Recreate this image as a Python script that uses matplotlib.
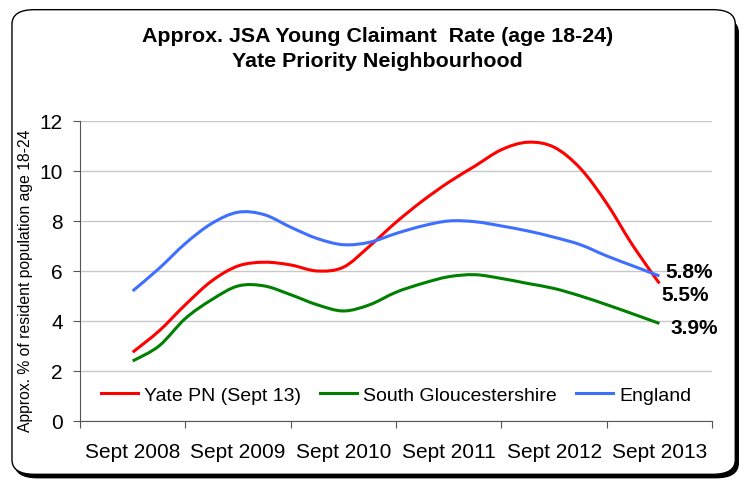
import matplotlib
matplotlib.use('Agg')
from matplotlib import pyplot as plt
from matplotlib.patches import FancyBboxPatch, PathPatch
from matplotlib.path import Path
from matplotlib.lines import Line2D
import numpy as np

plt.rcParams['font.family'] = ['Liberation Sans', 'DejaVu Sans']

# quarterly readings, Sept 2008 .. Sept 2013
years = ['Sept 2008', 'Sept 2009', 'Sept 2010', 'Sept 2011', 'Sept 2012', 'Sept 2013']
quarter = np.arange(21) / 4.0

yate = [2.75, 3.6, 4.65, 5.6, 6.2, 6.35, 6.24, 6.0, 6.15, 7.0, 7.95,
        8.8, 9.55, 10.2, 10.85, 11.15, 10.95, 10.1, 8.7, 7.0, 5.5]
south_glos = [2.4, 3.0, 4.1, 4.85, 5.4, 5.4, 5.05, 4.65, 4.4, 4.65, 5.15,
              5.5, 5.77, 5.85, 5.7, 5.5, 5.3, 5.0, 4.65, 4.28, 3.9]
england = [5.2, 6.1, 7.1, 7.9, 8.35, 8.25, 7.75, 7.3, 7.05, 7.15, 7.5,
           7.8, 8.0, 7.97, 7.8, 7.6, 7.35, 7.05, 6.6, 6.2, 5.8]

series = [('Yate PN (Sept 13)', yate, '#ff0000'),
          ('South Gloucestershire', south_glos, '#008000'),
          ('England', england, '#3f6fff')]
end_labels = ['5.5%', '3.9%', '5.8%']


def smooth_path(x, y):
    # excel-style "smoothed line": cubic bezier through every point
    pts = np.column_stack([x, y])
    verts = [pts[0]]
    codes = [Path.MOVETO]
    for i in range(len(pts) - 1):
        p0 = pts[max(i - 1, 0)]
        p1 = pts[i]
        p2 = pts[i + 1]
        p3 = pts[min(i + 2, len(pts) - 1)]
        verts += [p1 + (p2 - p0) / 6.0, p2 - (p3 - p1) / 6.0, p2]
        codes += [Path.CURVE4] * 3
    return Path(verts, codes)


fig = plt.figure(figsize=(7.48, 4.85), dpi=100)

# rounded frame with a shadow on the right/bottom
shadow = FancyBboxPatch((0.020, 0.013), 0.967, 0.948, boxstyle='round,pad=0,rounding_size=0.03',
                        transform=fig.transFigure, facecolor='black', edgecolor='black', lw=1, zorder=-2)
frame = FancyBboxPatch((0.016, 0.020), 0.967, 0.958, boxstyle='round,pad=0,rounding_size=0.03',
                       transform=fig.transFigure, facecolor='white', edgecolor='black', lw=1, zorder=-1)
fig.patches.extend([shadow, frame])

ax = fig.add_axes([0.107, 0.13, 0.845, 0.6185])
ax.set_facecolor('none')

handles = []
for name, vals, col in series:
    ax.add_patch(PathPatch(smooth_path(quarter, vals), fill=False, edgecolor=col, lw=2.2,
                           joinstyle='round', capstyle='butt', zorder=3))
    handles.append(Line2D([], [], color=col, lw=2.2, label=name))

ax.set_xlim(-0.5, 5.5)
ax.set_ylim(0, 12)
ax.set_yticks(range(0, 13, 2))
ax.set_xticks(np.arange(-0.5, 6, 1))
ax.set_xticklabels([])
ax.set_xticks(range(6), minor=True)
ax.set_xticklabels(years, minor=True)
ax.tick_params(axis='x', which='minor', length=0, pad=15, labelsize=15)
ax.tick_params(axis='x', which='major', length=5, color='#555555')
ax.tick_params(axis='y', length=5, labelsize=15, color='#555555', pad=7.5)

ax.grid(axis='y', color='#c8c8c8', lw=1)
ax.set_axisbelow(True)
for s in ['top', 'right']:
    ax.spines[s].set_visible(False)
for s in ['left', 'bottom']:
    ax.spines[s].set_color('#555555')

ax.set_ylabel('Approx. % of resident population age 18-24', fontsize=11.3)
ax.yaxis.set_label_coords(-0.074, 0.472)

# end-point labels
ax.text(quarter[-1] + 0.02, yate[-1] - 0.46, end_labels[0], fontsize=15, fontweight='bold', va='center')
ax.text(quarter[-1] + 0.105, south_glos[-1] - 0.18, end_labels[1], fontsize=15, fontweight='bold', va='center')
ax.text(quarter[-1] + 0.057, england[-1] + 0.16, end_labels[2], fontsize=15, fontweight='bold', va='center')

ax.legend(handles=handles, loc='center', bbox_to_anchor=(0.5, 0.087), ncol=3, frameon=False, fontsize=14,
          handlelength=1.9, handletextpad=0.3, columnspacing=1.0)

fig.text(0.505, 0.9134, 'Approx. JSA Young Claimant  Rate (age 18-24)', ha='center', va='baseline',
         fontsize=15.4, fontweight='bold')
fig.text(0.505, 0.862, 'Yate Priority Neighbourhood', ha='center', va='baseline',
         fontsize=15.4, fontweight='bold')

fig.savefig('out.png', dpi=100)
